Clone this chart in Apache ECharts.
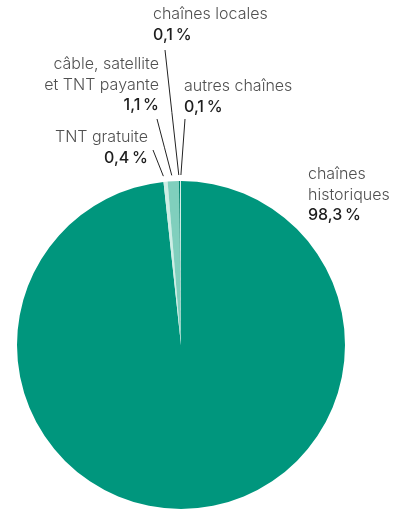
<!DOCTYPE html>
<html>
<head>
<meta charset="utf-8">
<script src="https://cdn.jsdelivr.net/npm/echarts@6/dist/echarts.min.js"></script>
<style>html,body{margin:0;padding:0;background:#fff}#c{width:400px;height:509px}</style>
</head>
<body>
<div id="c"></div>
<script>
// Data
const categories = ['chaînes\nhistoriques', 'TNT gratuite', 'câble, satellite\net TNT payante', 'chaînes locales', 'autres chaînes'];
const values = [98.3, 0.4, 1.1, 0.1, 0.1];
const sliceColors = ['#00967d', '#cdeee5', '#80cfbd', '#00806b', '#d4f0e9'];

// Label layout (positions of text labels and the end of their leader lines)
const labelLayoutCfg = [
  { x: 308, y: 164, align: 'left', line: null },
  { x: 148, y: 127, align: 'right', line: [153, 150] },
  { x: 159, y: 54, align: 'right', line: [157, 119] },
  { x: 153, y: 4, align: 'left', line: [165, 50] },
  { x: 184, y: 76, align: 'left', line: [185, 119] }
];

const fmt = v => v.toFixed(1).replace('.', ',') + '\u2009%';

const chart = echarts.init(document.getElementById('c'), null, { renderer: 'canvas' });
const data = categories.map((n, i) => ({
  name: n,
  value: values[i],
  itemStyle: { color: sliceColors[i] },
  labelLine: { show: labelLayoutCfg[i].line !== null }
}));

chart.setOption({
  animation: false,
  series: [{
    type: 'pie',
    center: [181, 345],
    radius: 164,
    startAngle: 90,
    clockwise: true,
    avoidLabelOverlap: false,
    data: data,
    itemStyle: { borderWidth: 0 },
    emphasis: { disabled: true },
    label: {
      show: true,
      position: 'outside',
      formatter: p => p.name.split('\n').map(s => '{n|' + s + '}').join('\n') + '\n{v|' + fmt(p.value) + '}',
      rich: {
        n: { fontFamily: 'Inter', fontSize: 16, fontWeight: 300, color: '#505050', lineHeight: 20.5 },
        v: { fontFamily: 'Inter', fontSize: 16, fontWeight: 500, color: '#1e1e1e', lineHeight: 20.5 }
      }
    },
    labelLine: { show: true, lineStyle: { color: '#222', width: 1 } },
    labelLayout: function (params) {
      const cfg = labelLayoutCfg[params.dataIndex];
      const res = { x: cfg.x, y: cfg.y, align: cfg.align, verticalAlign: 'top' };
      const pts = params.labelLinePoints;
      if (cfg.line && pts && pts.length) {
        const p0 = pts[0];
        const dx = cfg.line[0] - p0[0], dy = cfg.line[1] - p0[1];
        const len = Math.sqrt(dx * dx + dy * dy);
        const s = [p0[0] + dx / len * 6, p0[1] + dy / len * 6];
        res.labelLinePoints = [s, [(s[0] + cfg.line[0]) / 2, (s[1] + cfg.line[1]) / 2], cfg.line];
      }
      return res;
    }
  }]
});
</script>
</body>
</html>
